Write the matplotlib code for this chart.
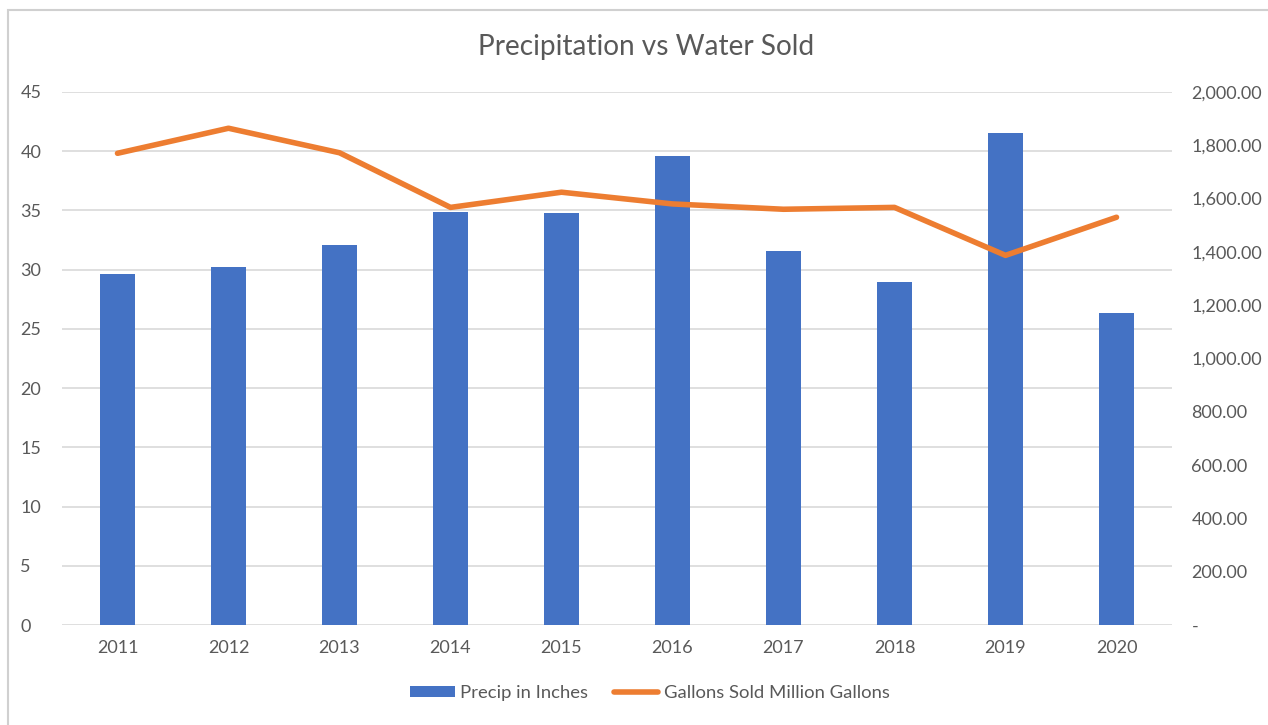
import matplotlib
matplotlib.use("Agg")
import matplotlib.pyplot as plt
from matplotlib.patches import Rectangle
from matplotlib.ticker import FuncFormatter, MultipleLocator

years = ["2011", "2012", "2013", "2014", "2015", "2016", "2017", "2018", "2019", "2020"]
precip = [29.6, 30.2, 32.1, 34.9, 34.8, 39.6, 31.6, 29.0, 41.5, 26.3]
gallons = [1770, 1864, 1772, 1567, 1624, 1580, 1560, 1567, 1387, 1530]

plt.rcParams['font.family'] = ['Lato', 'DejaVu Sans']
txt = '#595959'
blue = '#4472C4'
orange = '#ED7D31'
grid = '#D9D9D9'

fig = plt.figure(figsize=(12.68, 7.25), dpi=100)
fig.patches.append(Rectangle((8/1268, -0.1), 1.5, 1 - 10/725 + 0.1, transform=fig.transFigure,
                             fill=False, edgecolor='#D0D0D0', linewidth=1.5))
ax = fig.add_axes([62/1268, 1 - 625/725, 1110/1268, (625 - 92)/725])
x = list(range(len(years)))
ax.bar(x, precip, width=0.315, color=blue, zorder=3, label='Precip in Inches')
ax.set_xlim(-0.5, len(years) - 0.5)
ax.set_ylim(0, 45)
ax.yaxis.set_major_locator(MultipleLocator(5))
ax.set_xticks(x)
ax.set_xticklabels(years)
ax.grid(axis='y', color=grid, linewidth=1.2, zorder=0)
for s in ax.spines.values():
    s.set_visible(False)
ax.tick_params(length=0, colors=txt, labelsize=13)
ax.tick_params(axis='x', pad=11)
ax.tick_params(axis='y', pad=30)
for lab in ax.get_yticklabels():
    lab.set_horizontalalignment('left')

ax2 = ax.twinx()
ax2.plot(x, gallons, color=orange, linewidth=4, solid_capstyle='round', zorder=4,
         label='Gallons Sold Million Gallons')
ax2.set_ylim(0, 2000)
ax2.yaxis.set_major_locator(MultipleLocator(200))
ax2.yaxis.set_major_formatter(FuncFormatter(lambda v, p: '-' if v == 0 else f'{v:,.2f}'))
for s in ax2.spines.values():
    s.set_visible(False)
ax2.tick_params(length=0, colors=txt, labelsize=13, pad=14)

ax.set_zorder(1)
ax2.set_zorder(2)
ax.patch.set_visible(False)

fig.text(646/1268, 1 - 47/725, 'Precipitation vs Water Sold', ha='center', va='center',
         fontsize=20.2, color=txt)

h1, l1 = ax.get_legend_handles_labels()
h2, l2 = ax2.get_legend_handles_labels()
fig.legend(h1 + h2, l1 + l2, loc='center', bbox_to_anchor=(650/1268, 1 - 693/725), ncol=2,
           frameon=False, fontsize=13.3, labelcolor=txt, handlelength=2.4, handleheight=0.6,
           columnspacing=1.4, handletextpad=0.3)

fig.savefig('out.png', dpi=100, facecolor='white')
